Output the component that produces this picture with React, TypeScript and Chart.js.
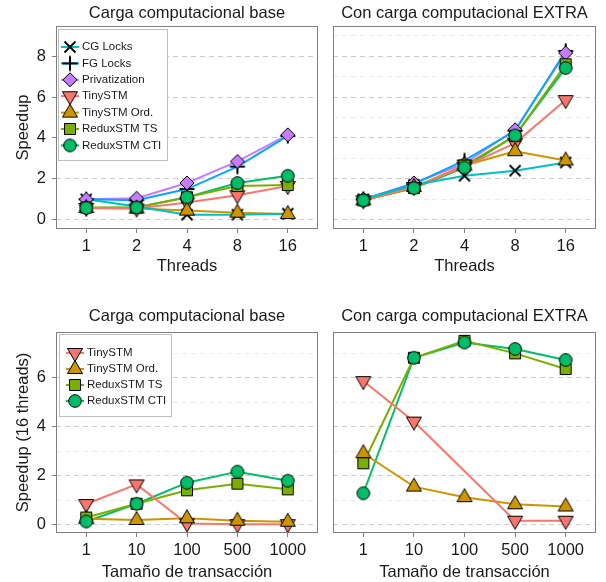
import React, { useEffect, useRef } from 'react';
import { Chart, registerables } from 'chart.js';

Chart.register(...registerables);

const FONT = '"Liberation Sans", Arial, Helvetica, sans-serif';

// ---------- categories / tick labels ----------
const threadLabels = ['1', '2', '4', '8', '16'];
const txSizeLabels = ['1', '10', '100', '500', '1000'];

// ---------- series ----------
const seriesNames = ['CG Locks', 'FG Locks', 'Privatization', 'TinySTM', 'TinySTM Ord.', 'ReduxSTM TS', 'ReduxSTM CTI'];
const seriesColors = ['#00BFC4', '#00A9FF', '#C77CFF', '#F8766D', '#CD9600', '#7CAE00', '#00BE67'];
const seriesMarkers = ['x', 'plus', 'diamond', 'down', 'up', 'square', 'circle'];

// ---------- top-left: Carga computacional base (threads) ----------
const baseCG = [1.0, 0.65, 0.25, 0.25, 0.3];
const baseFG = [1.0, 0.95, 1.5, 2.6, 4.1];
const basePriv = [1.0, 1.05, 1.8, 2.85, 4.15];
const baseTiny = [0.58, 0.55, 0.85, 1.2, 1.65];
const baseTinyOrd = [0.58, 0.55, 0.45, 0.35, 0.28];
const baseReduxTS = [0.6, 0.6, 1.1, 1.65, 1.7];
const baseReduxCTI = [0.58, 0.6, 1.1, 1.8, 2.15];

// ---------- top-right: Con carga computacional EXTRA (threads) ----------
const extraCG = [1.0, 1.7, 2.15, 2.4, 2.8];
const extraFG = [1.0, 1.75, 2.9, 4.35, 8.25];
const extraPriv = [1.0, 1.8, 2.75, 4.4, 8.15];
const extraTiny = [0.95, 1.6, 2.6, 3.75, 5.85];
const extraTinyOrd = [0.95, 1.6, 2.65, 3.35, 2.9];
const extraReduxTS = [0.95, 1.55, 2.65, 4.1, 7.6];
const extraReduxCTI = [0.95, 1.55, 2.55, 4.12, 7.42];

// ---------- bottom-left: base, 16 threads (transaction size) ----------
const sizeBaseTiny = [0.85, 1.65, 0.06, 0.03, 0.03];
const sizeBaseTinyOrd = [0.25, 0.2, 0.27, 0.17, 0.13];
const sizeBaseReduxTS = [0.3, 0.86, 1.41, 1.68, 1.45];
const sizeBaseReduxCTI = [0.14, 0.86, 1.72, 2.17, 1.8];

// ---------- bottom-right: EXTRA, 16 threads (transaction size) ----------
const sizeExtraTiny = [5.86, 4.21, null, 0.17, 0.17];
const sizeExtraTinyOrd = [2.92, 1.56, 1.13, 0.84, 0.75];
const sizeExtraReduxTS = [2.51, 6.81, 7.5, 6.99, 6.35];
const sizeExtraReduxCTI = [1.29, 6.81, 7.43, 7.17, 6.72];

const topTicks = [0, 1, 2, 3, 4, 5, 6, 7, 8, 9];
const bottomTicks = [0, 1, 2, 3, 4, 5, 6, 7];

// ---------- marker images ----------
function makeMarker(kind: string, fill: string): HTMLCanvasElement {
  const S = 22;
  const c = document.createElement('canvas');
  c.width = S;
  c.height = S;
  const g = c.getContext('2d')!;
  const m = S / 2;
  g.strokeStyle = '#000';
  g.fillStyle = fill;
  g.lineWidth = 1;
  g.lineJoin = 'miter';
  g.beginPath();
  switch (kind) {
    case 'x': {
      const h = 5.5;
      g.lineWidth = 1.8;
      g.moveTo(m - h, m - h); g.lineTo(m + h, m + h);
      g.moveTo(m + h, m - h); g.lineTo(m - h, m + h);
      g.stroke();
      break;
    }
    case 'plus': {
      const h = 7.5;
      g.lineWidth = 2;
      g.moveTo(m - h, m); g.lineTo(m + h, m);
      g.moveTo(m, m - h); g.lineTo(m, m + h);
      g.stroke();
      break;
    }
    case 'diamond': {
      const h = 7;
      g.moveTo(m, m - h); g.lineTo(m + h, m); g.lineTo(m, m + h); g.lineTo(m - h, m); g.closePath();
      g.fill(); g.stroke();
      break;
    }
    case 'down': {
      g.moveTo(m - 7.5, m - 4.5); g.lineTo(m + 7.5, m - 4.5); g.lineTo(m, m + 8.5); g.closePath();
      g.fill(); g.stroke();
      break;
    }
    case 'up': {
      g.moveTo(m, m - 8.5); g.lineTo(m + 7.5, m + 4.5); g.lineTo(m - 7.5, m + 4.5); g.closePath();
      g.fill(); g.stroke();
      break;
    }
    case 'square': {
      g.rect(m - 5.5, m - 5.5, 11, 11);
      g.fill(); g.stroke();
      break;
    }
    case 'circle': {
      g.arc(m, m, 6.3, 0, Math.PI * 2);
      g.fill(); g.stroke();
      break;
    }
  }
  return c;
}

type LegendCfg = { x: number; y: number; w: number; h: number; symX: number; textX: number; startY: number; step: number };

type PanelCfg = {
  labels: string[];
  series: { idx: number; values: (number | null)[] }[];
  yMin: number;
  yMax: number;
  yTicks: number[];
  showY: boolean;
  yTitle?: string;
  title: string;
  xTitle: string;
  padTop: number;
  padRight: number;
  xH: number;
  yW: number;
  titleY: number;
  xTitleY: number;
  yTitleX: number;
  legend?: LegendCfg;
};

function buildConfig(cfg: PanelCfg, markers: HTMLCanvasElement[]): any {
  const lineSets = cfg.series.map((s, k) => ({
    label: seriesNames[s.idx],
    data: s.values.map((v, i) => ({ x: i, y: v })),
    borderColor: seriesColors[s.idx],
    backgroundColor: seriesColors[s.idx],
    borderWidth: 2,
    pointRadius: 0,
    tension: 0,
    spanGaps: true,
    order: 100 + k,
  }));
  const pointSets = cfg.series.map((s, k) => ({
    label: seriesNames[s.idx] + ' pts',
    data: s.values.map((v, i) => ({ x: i, y: v })),
    showLine: false,
    pointStyle: markers[s.idx],
    pointRadius: 6,
    clip: false,
    order: 50 - k,
  }));

  const decor = {
    id: 'decor',
    afterDraw(chart: any) {
      const { ctx, chartArea: a } = chart;
      ctx.save();
      // panel border
      ctx.strokeStyle = '#7f7f7f';
      ctx.lineWidth = 1;
      ctx.setLineDash([]);
      ctx.strokeRect(Math.round(a.left) + 0.5, Math.round(a.top) + 0.5, Math.round(a.right - a.left) - 1, Math.round(a.bottom - a.top) - 1);
      // title
      ctx.fillStyle = '#1a1a1a';
      ctx.textAlign = 'center';
      ctx.textBaseline = 'middle';
      ctx.font = `16.5px ${FONT}`;
      ctx.fillText(cfg.title, (a.left + a.right) / 2, cfg.titleY);
      // x title
      ctx.fillText(cfg.xTitle, (a.left + a.right) / 2, cfg.xTitleY);
      // y title
      if (cfg.yTitle) {
        ctx.save();
        ctx.translate(cfg.yTitleX, (a.top + a.bottom) / 2);
        ctx.rotate(-Math.PI / 2);
        ctx.fillText(cfg.yTitle, 0, 0);
        ctx.restore();
      }
      // legend
      const L = cfg.legend;
      if (L) {
        ctx.fillStyle = '#ffffff';
        ctx.fillRect(L.x, L.y, L.w, L.h);
        ctx.strokeStyle = '#bfbfbf';
        ctx.lineWidth = 1;
        ctx.strokeRect(L.x + 0.5, L.y + 0.5, L.w, L.h);
        ctx.font = `11.5px ${FONT}`;
        ctx.textAlign = 'left';
        ctx.textBaseline = 'middle';
        cfg.series.forEach((s, k) => {
          const y = L.startY + k * L.step;
          ctx.strokeStyle = seriesColors[s.idx];
          ctx.lineWidth = 2;
          ctx.beginPath();
          ctx.moveTo(L.symX - 9, y);
          ctx.lineTo(L.symX + 9, y);
          ctx.stroke();
          const img = markers[s.idx];
          ctx.drawImage(img, L.symX - img.width / 2, y - img.height / 2);
        });
        cfg.series.forEach((s, k) => {
          const y = L.startY + k * L.step;
          ctx.fillStyle = '#1a1a1a';
          ctx.fillText(seriesNames[s.idx], L.textX, y);
        });
      }
      ctx.restore();
    },
  };

  return {
    type: 'line',
    data: { datasets: [...lineSets, ...pointSets] },
    options: {
      responsive: false,
      animation: false,
      events: [],
      layout: { padding: { top: cfg.padTop, right: cfg.padRight, left: 0, bottom: 0 } },
      plugins: { legend: { display: false }, tooltip: { enabled: false }, title: { display: false } },
      scales: {
        x: {
          type: 'linear',
          min: -0.6,
          max: 4.6,
          afterBuildTicks: (s: any) => {
            s.ticks = cfg.labels.map((_, i) => ({ value: i }));
          },
          afterFit: (s: any) => {
            s.height = cfg.xH;
          },
          grid: { display: true, drawOnChartArea: false, drawTicks: true, tickLength: 4, color: '#7f7f7f' },
          border: { display: false },
          ticks: {
            autoSkip: false,
            maxRotation: 0,
            padding: 4,
            color: '#1a1a1a',
            font: { family: FONT, size: 16.5 },
            callback: (v: any) => cfg.labels[Math.round(v)] ?? '',
          },
        },
        y: {
          type: 'linear',
          min: cfg.yMin,
          max: cfg.yMax,
          afterBuildTicks: (s: any) => {
            s.ticks = cfg.yTicks.map((v) => ({ value: v }));
          },
          afterFit: (s: any) => {
            s.width = cfg.yW;
          },
          grid: {
            display: true,
            drawTicks: cfg.showY,
            tickLength: 4,
            lineWidth: 1,
            color: (c: any) => (c.tick && c.tick.value % 2 === 0 ? '#cccccc' : '#ebebeb'),
            tickColor: (c: any) => (c.tick && c.tick.value % 2 === 0 ? '#7f7f7f' : 'rgba(0,0,0,0)'),
            tickBorderDash: [],
          },
          border: { display: false, dash: [5, 4] },
          ticks: {
            display: cfg.showY,
            padding: 6,
            color: '#1a1a1a',
            font: { family: FONT, size: 16.5 },
            callback: (v: any) => (v % 2 === 0 ? String(v) : ''),
          },
        },
      },
    },
    plugins: [decor],
  };
}

function Panel(props: { left: number; top: number; width: number; height: number; cfg: PanelCfg }) {
  const ref = useRef<HTMLCanvasElement>(null);
  useEffect(() => {
    const markers = seriesMarkers.map((k, i) => makeMarker(k, seriesColors[i]));
    const chart = new Chart(ref.current!, buildConfig(props.cfg, markers));
    return () => chart.destroy();
  }, []);
  return (
    <div style={{ position: 'absolute', left: props.left, top: props.top, width: props.width, height: props.height }}>
      <canvas ref={ref} width={props.width} height={props.height} style={{ width: props.width, height: props.height, display: 'block' }} />
    </div>
  );
}

const tlCfg: PanelCfg = {
  labels: threadLabels,
  series: [
    { idx: 0, values: baseCG },
    { idx: 1, values: baseFG },
    { idx: 2, values: basePriv },
    { idx: 3, values: baseTiny },
    { idx: 4, values: baseTinyOrd },
    { idx: 5, values: baseReduxTS },
    { idx: 6, values: baseReduxCTI },
  ],
  yMin: -0.45,
  yMax: 9.47,
  yTicks: topTicks,
  showY: true,
  yTitle: 'Speedup',
  title: 'Carga computacional base',
  xTitle: 'Threads',
  padTop: 26,
  padRight: 7,
  xH: 62,
  yW: 56,
  titleY: 13,
  xTitleY: 266,
  yTitleX: 23,
  legend: { x: 58, y: 29, w: 109, h: 131, symX: 70, textX: 82, startY: 47, step: 16.4 },
};

const trCfg: PanelCfg = {
  labels: threadLabels,
  series: [
    { idx: 0, values: extraCG },
    { idx: 1, values: extraFG },
    { idx: 2, values: extraPriv },
    { idx: 3, values: extraTiny },
    { idx: 4, values: extraTinyOrd },
    { idx: 5, values: extraReduxTS },
    { idx: 6, values: extraReduxCTI },
  ],
  yMin: -0.45,
  yMax: 9.47,
  yTicks: topTicks,
  showY: false,
  title: 'Con carga computacional EXTRA',
  xTitle: 'Threads',
  padTop: 26,
  padRight: 10,
  xH: 62,
  yW: 8,
  titleY: 13,
  xTitleY: 266,
  yTitleX: 0,
};

const blCfg: PanelCfg = {
  labels: txSizeLabels,
  series: [
    { idx: 3, values: sizeBaseTiny },
    { idx: 4, values: sizeBaseTinyOrd },
    { idx: 5, values: sizeBaseReduxTS },
    { idx: 6, values: sizeBaseReduxCTI },
  ],
  yMin: -0.33,
  yMax: 7.86,
  yTicks: bottomTicks,
  showY: true,
  yTitle: 'Speedup (16 threads)',
  title: 'Carga computacional base',
  xTitle: 'Tamaño de transacción',
  padTop: 41,
  padRight: 7,
  xH: 49,
  yW: 56,
  titleY: 25,
  xTitleY: 281,
  yTitleX: 23,
  legend: { x: 59, y: 43, w: 112, h: 82, symX: 75, textX: 87, startY: 62, step: 16 },
};

const brCfg: PanelCfg = {
  labels: txSizeLabels,
  series: [
    { idx: 3, values: sizeExtraTiny },
    { idx: 4, values: sizeExtraTinyOrd },
    { idx: 5, values: sizeExtraReduxTS },
    { idx: 6, values: sizeExtraReduxCTI },
  ],
  yMin: -0.33,
  yMax: 7.86,
  yTicks: bottomTicks,
  showY: false,
  title: 'Con carga computacional EXTRA',
  xTitle: 'Tamaño de transacción',
  padTop: 41,
  padRight: 10,
  xH: 49,
  yW: 8,
  titleY: 25,
  xTitleY: 281,
  yTitleX: 0,
};

export default function App() {
  return (
    <div style={{ position: 'absolute', left: 0, top: 0, width: 606, height: 582, background: '#ffffff', overflow: 'hidden' }}>
      <Panel left={0} top={0} width={325} height={291} cfg={tlCfg} />
      <Panel left={325} top={0} width={281} height={291} cfg={trCfg} />
      <Panel left={0} top={291} width={325} height={291} cfg={blCfg} />
      <Panel left={325} top={291} width={281} height={291} cfg={brCfg} />
    </div>
  );
}
